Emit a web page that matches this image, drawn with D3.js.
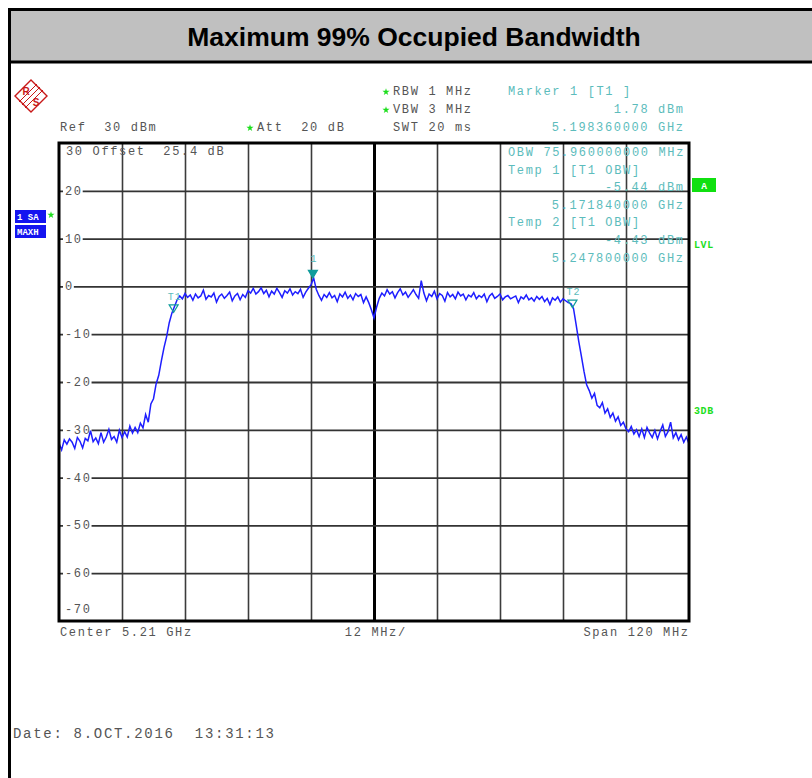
<!DOCTYPE html>
<html><head><meta charset="utf-8">
<script src="https://cdn.jsdelivr.net/npm/d3@7"></script>
<style>body{margin:0;background:#fff}svg{display:block}</style>
</head><body>
<svg id="c" width="812" height="778"></svg>
<script>
// ---------- data ----------
const titleText = "Maximum 99% Occupied Bandwidth";
const startFreqMHz = 5150, stopFreqMHz = 5270, divMHz = 12;
const refLevel = 30, bottomLevel = -70;
const levelTicks = [20, 10, 0, -10, -20, -30, -40, -50, -60];
const levelLabels = ["20", "10", "0", "-10", "-20", "-30", "-40", "-50", "-60"];
const traceDbm = [
 -32.8,-34.2,-32.1,-33.0,-31.9,-32.6,-33.9,-31.6,-32.4,-33.8,
 -31.8,-32.3,-30.2,-32.5,-31.7,-32.9,-30.6,-32.6,-31.5,-29.9,
 -32.0,-31.4,-32.6,-30.1,-31.6,-30.4,-31.5,-29.2,-30.7,-29.5,
 -30.6,-28.6,-29.6,-26.8,-28.4,-24.6,-23.5,-20.4,-18.6,-15.6,
 -12.8,-10.5,-7.6,-5.6,-4.2,-2.8,-2.0,-2.6,-1.5,-2.3,
 -1.8,-2.9,-1.6,-2.4,-2.0,-0.8,-2.7,-1.9,-2.2,-1.4,
 -3.3,-2.1,-1.6,-2.5,-1.9,-1.2,-3.0,-2.0,-1.5,-2.8,
 -1.7,-2.3,-0.9,-1.4,-0.4,-1.6,-1.1,-0.3,-1.5,-0.8,
 -2.2,-1.0,-1.6,-0.4,-1.3,-2.3,-0.9,-1.4,-0.5,-1.8,
 -1.1,-1.5,-0.6,-2.3,-1.2,-0.4,0.3,1.78,-0.6,-1.9,
 -2.9,-1.7,-2.3,-1.3,-2.4,-1.9,-3.2,-1.6,-2.2,-1.2,
 -2.5,-1.8,-2.8,-1.5,-2.1,-1.7,-3.4,-2.2,-3.4,-4.9,
 -6.6,-4.3,-2.5,-1.4,-2.0,-0.7,-1.6,-1.1,-2.4,-1.3,
 -0.5,-1.8,-1.2,-2.3,-1.5,-0.7,-1.7,-2.5,1.2,-1.4,
 -3.0,-1.6,-2.1,-1.0,-2.6,-1.5,-1.9,-3.1,-1.3,-2.2,
 -1.7,-2.6,-1.2,-2.0,-1.6,-2.8,-1.8,-2.2,-1.3,-2.6,
 -1.9,-2.3,-1.6,-3.2,-2.0,-1.5,-2.5,-2.1,-1.6,-2.8,
 -2.2,-1.9,-2.6,-2.3,-2.0,-3.4,-2.2,-2.6,-1.8,-2.8,
 -2.4,-3.1,-2.1,-2.7,-2.1,-3.2,-2.5,-3.8,-2.4,-2.9,
 -2.2,-3.3,-2.6,-3.0,-3.4,-3.6,-4.6,-8.0,-11.5,-14.6,
 -17.8,-20.6,-21.8,-23.4,-22.4,-24.9,-25.4,-24.3,-26.5,-25.6,
 -27.4,-26.5,-28.2,-27.3,-29.1,-28.4,-29.8,-30.4,-29.3,-30.9,
 -30.0,-31.4,-29.8,-31.6,-29.5,-30.7,-31.6,-30.1,-31.9,-30.3,
 -29.0,-31.4,-30.4,-28.4,-31.7,-30.6,-32.1,-31.0,-32.6,-31.5,
 -32.9
];
const markerNames = ["1", "T1", "T2"];
const markerFreqMHz = [5198.36, 5171.84, 5247.8];
const markerLevel = [1.78, -5.44, -4.43];
const markerFilled = [true, false, false];

const headerGray = ["RBW 1 MHz", "VBW 3 MHz", "SWT 20 ms", "Ref  30 dBm", "Att  20 dB"];
const headerCyan = ["Marker 1 [T1 ]", "1.78 dBm", "5.198360000 GHz"];
const infoLines = ["OBW 75.960000000 MHz", "Temp 1 [T1 OBW]", "-5.44 dBm", "5.171840000 GHz",
                   "Temp 2 [T1 OBW]", "-4.43 dBm", "5.247800000 GHz"];
const infoRight = [false, false, true, true, false, true, true];
const offsetText = "30 Offset  25.4 dB";
const bottomTexts = ["Center 5.21 GHz", "12 MHz/", "Span 120 MHz"];
const dateText = "Date: 8.OCT.2016  13:31:13";
const sideBoxes = ["1 SA", "MAXH"];

// ---------- drawing ----------
const svg = d3.select("#c");
const MONO = "'Liberation Mono','DejaVu Sans Mono',monospace";
const LS = 1.65;
const GRAY = "#555", CYAN = "#5cbcbc", TEAL = "#109c9c", GREEN = "#1ede1e";
const P = {l: 59, r: 689, t: 143, b: 621};

const x = d3.scaleLinear().domain([startFreqMHz, stopFreqMHz]).range([P.l, P.r]);
const y = d3.scaleLinear().domain([bottomLevel, refLevel]).range([P.b, P.t]);
const binFreq = d3.scaleLinear().domain([0, traceDbm.length - 1]).range([startFreqMHz, stopFreqMHz]);

function mono(g, px, py, s, opt = {}) {
  const size = opt.size || 12, ls = opt.ls == null ? LS : opt.ls;
  const anchor = opt.anchor || "start";
  let xx = px;
  if (anchor === "end") xx = px + ls;
  if (anchor === "middle") xx = px + ls / 2;
  return g.append("text").attr("x", xx).attr("y", py)
    .attr("font-family", MONO).attr("font-size", size)
    .attr("letter-spacing", ls).attr("text-anchor", anchor)
    .attr("font-weight", opt.weight || "normal")
    .attr("fill", opt.fill || GRAY).style("white-space", "pre").text(s);
}

// outer frame + title band
svg.append("rect").attr("x", 11).attr("y", 11).attr("width", 805).attr("height", 50).attr("fill", "#c0c0c0");
svg.append("rect").attr("x", 9.5).attr("y", 9.5).attr("width", 820).attr("height", 770)
  .attr("fill", "none").attr("stroke", "#000").attr("stroke-width", 3);
svg.append("line").attr("x1", 9).attr("x2", 812).attr("y1", 62).attr("y2", 62)
  .attr("stroke", "#000").attr("stroke-width", 3);
svg.append("text").attr("x", 414).attr("y", 46).attr("text-anchor", "middle")
  .attr("font-family", "'Liberation Sans',Arial,sans-serif").attr("font-weight", "bold")
  .attr("font-size", 26.5).attr("fill", "#000").text(titleText);

// R&S logo
const logo = svg.append("g").attr("transform", "translate(31,96)");
logo.append("path").attr("d", "M0,-16L16,0L0,16L-16,0Z").attr("fill", "none").attr("stroke", "#c81818").attr("stroke-width", 1.4);
[-3, 0, 3].forEach(o => logo.append("line").attr("x1", -9 + o).attr("y1", 9 + o).attr("x2", 9 + o).attr("y2", -9 + o)
  .attr("stroke", "#c81818").attr("stroke-width", 1));
logo.append("text").attr("x", -5).attr("y", -1).attr("text-anchor", "middle").attr("font-family", "'Liberation Sans',sans-serif")
  .attr("font-weight", "bold").attr("font-size", 10).attr("fill", "#c81818").text("R");
logo.append("text").attr("x", 5).attr("y", 10).attr("text-anchor", "middle").attr("font-family", "'Liberation Sans',sans-serif")
  .attr("font-weight", "bold").attr("font-size", 10).attr("fill", "#c81818").text("S");

// header texts
const hdr = svg.append("g");
mono(hdr, 393, 95, headerGray[0]);
mono(hdr, 393, 113, headerGray[1]);
mono(hdr, 393, 131, headerGray[2]);
mono(hdr, 60, 131, headerGray[3]);
mono(hdr, 257, 131, headerGray[4]);
mono(hdr, 508, 95, headerCyan[0], {fill: CYAN});
mono(hdr, 683, 113, headerCyan[1], {fill: CYAN, anchor: "end"});
mono(hdr, 683, 131, headerCyan[2], {fill: CYAN, anchor: "end"});
const star = d3.symbol(d3.symbolStar).size(16);
[[386, 92], [386, 110], [250, 128], [51, 215]].forEach(([sx, sy]) =>
  svg.append("path").attr("d", star()).attr("transform", `translate(${sx},${sy})`).attr("fill", GREEN));

// side boxes
sideBoxes.forEach((s, i) => {
  svg.append("rect").attr("x", 15).attr("y", 210 + i * 15).attr("width", 31).attr("height", 13).attr("fill", "#1414f0");
  svg.append("text").attr("x", 17).attr("y", 220 + i * 15).attr("font-family", MONO).attr("font-weight", "bold")
    .attr("font-size", 9).attr("fill", "#fff").style("white-space", "pre").text(s);
});

// grid
const grid = svg.append("g");
const vTicks = d3.range(startFreqMHz + divMHz, stopFreqMHz, divMHz);
grid.append("g").attr("transform", `translate(0,${P.b})`)
  .call(d3.axisBottom(x).tickValues(vTicks).tickSize(-(P.b - P.t)).tickFormat(""))
  .call(g => g.select(".domain").remove())
  .call(g => g.selectAll(".tick line").attr("stroke", d => Math.abs(d - 5210) < 1e-6 ? "#000" : "#3c3c3c")
     .attr("stroke-width", d => Math.abs(d - 5210) < 1e-6 ? 3 : 1.6));
grid.append("g").attr("transform", `translate(${P.l},0)`)
  .call(d3.axisLeft(y).tickValues(levelTicks).tickSize(-(P.r - P.l)).tickFormat(""))
  .call(g => g.select(".domain").remove())
  .call(g => g.selectAll(".tick line").attr("stroke", "#333").attr("stroke-width", 1.8));

// level labels (white background)
levelTicks.forEach((v, i) => {
  const s = levelLabels[i];
  const w = s.length * (7.2 + LS) + 2;
  svg.append("rect").attr("x", 63).attr("y", y(v) - 5).attr("width", w).attr("height", 10).attr("fill", "#fff");
  mono(svg, 65, y(v) + 4, s);
});
mono(svg, 65, P.b - 8, "-70");
mono(svg, 66, 155, offsetText);

// info text in plot
const infoY = [156, 174, 191, 209, 226, 244, 262];
infoLines.forEach((s, i) => {
  if (infoRight[i]) mono(svg, 683, infoY[i], s, {fill: CYAN, anchor: "end"});
  else mono(svg, 508, infoY[i], s, {fill: CYAN});
});

// trace
const line = d3.line().x((d, i) => x(binFreq(i))).y(d => y(d));
svg.append("path").datum(traceDbm).attr("d", line).attr("fill", "none")
  .attr("stroke", "#1e1eff").attr("stroke-width", 1.5).attr("stroke-linejoin", "miter");

// markers
const labelOffset = [16, 12, 12.5];
markerNames.forEach((n, i) => {
  const mx = x(markerFreqMHz[i]), my = y(markerLevel[i]);
  svg.append("path").attr("d", `M${mx},${my}L${mx - 4.5},${my - 7.5}L${mx + 4.5},${my - 7.5}Z`)
    .attr("fill", markerFilled[i] ? TEAL : "none").attr("stroke", TEAL).attr("stroke-width", 1.2);
  svg.append("text").attr("x", mx + 1).attr("y", my - labelOffset[i]).attr("text-anchor", "middle")
    .attr("font-family", MONO).attr("font-size", 10).attr("letter-spacing", 1).attr("fill", CYAN).text(n);
});

// plot border
svg.append("rect").attr("x", P.l).attr("y", P.t).attr("width", P.r - P.l).attr("height", P.b - P.t)
  .attr("fill", "none").attr("stroke", "#000").attr("stroke-width", 3);

// right side indicators
svg.append("rect").attr("x", 692).attr("y", 178).attr("width", 24).attr("height", 14).attr("fill", "#10e010");
svg.append("text").attr("x", 704).attr("y", 188.5).attr("text-anchor", "middle").attr("font-family", MONO)
  .attr("font-weight", "bold").attr("font-size", 9.5).attr("fill", "#fff").text("A");
svg.append("text").attr("x", 694).attr("y", 248).attr("font-family", MONO).attr("font-weight", "bold")
  .attr("font-size", 10).attr("letter-spacing", 0.6).attr("fill", GREEN).text("LVL");
svg.append("text").attr("x", 694).attr("y", 414).attr("font-family", MONO).attr("font-weight", "bold")
  .attr("font-size", 10).attr("letter-spacing", 0.6).attr("fill", GREEN).text("3DB");

// bottom texts
mono(svg, 60, 636, bottomTexts[0]);
mono(svg, 375, 636, bottomTexts[1], {anchor: "middle"});
mono(svg, 688, 636, bottomTexts[2], {anchor: "end"});
mono(svg, 13, 738, dateText, {size: 14, ls: 1.7});
</script>
</body></html>
